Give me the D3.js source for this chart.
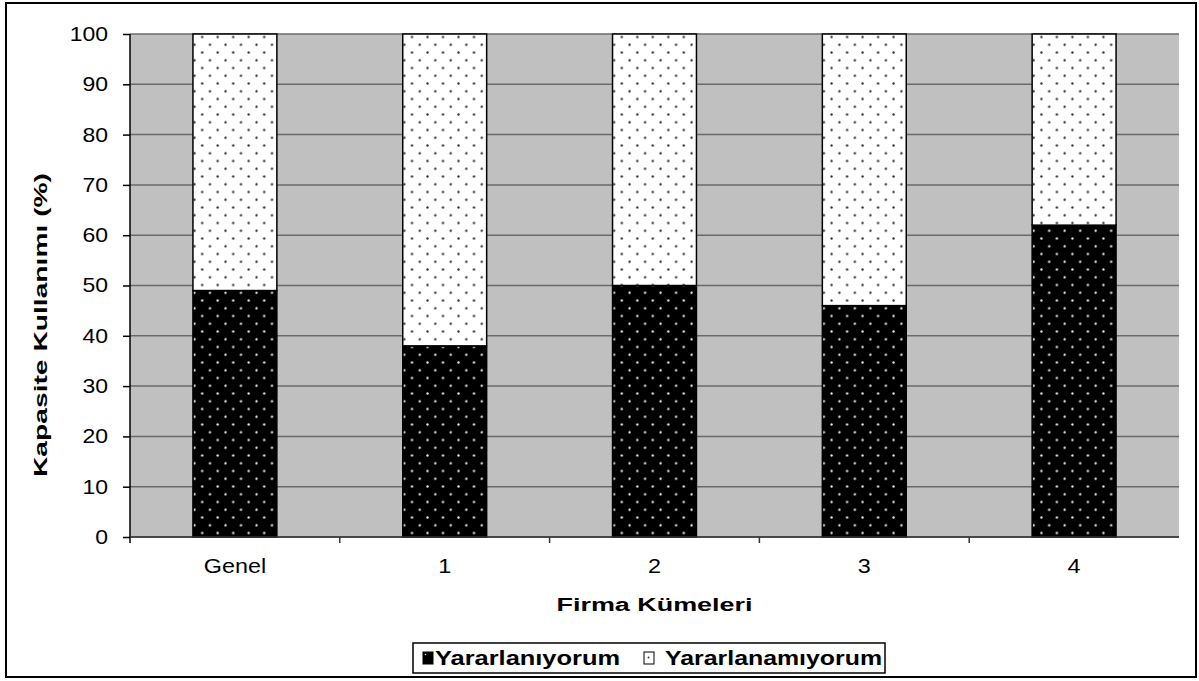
<!DOCTYPE html>
<html>
<head>
<meta charset="utf-8">
<script src="https://cdn.jsdelivr.net/npm/d3@7"></script>
<style>
  html, body { margin: 0; padding: 0; background: #fff; }
  svg { display: block; font-family: "Liberation Sans", Arial, sans-serif; }
</style>
</head>
<body>
<svg id="chart" width="1199" height="681"></svg>
<script>
// Kapasite kullanımı — firma kümelerine göre yığılmış sütunlar
const categories = ["Genel", "1", "2", "3", "4"];
const seriesNames = ["Yararlanıyorum", "Yararlanamıyorum"];
const usedValues = [49, 38, 50, 46, 62];
const unusedValues = [51, 62, 50, 54, 38];
const yTicks = [0, 10, 20, 30, 40, 50, 60, 70, 80, 90, 100];

const W = 1199, H = 681;
const plot = { left: 130, right: 1179, top: 34, bottom: 537 };

const svg = d3.select("#chart");
svg.append("rect").attr("x", 0).attr("y", 0).attr("width", W).attr("height", H).attr("fill", "#fff");

// outer frame
svg.append("rect")
  .attr("x", 6).attr("y", 3).attr("width", 1190).attr("height", 674)
  .attr("fill", "none").attr("stroke", "#000").attr("stroke-width", 2);

const x = d3.scaleBand().domain(categories).range([plot.left, plot.right]).padding(0);
const y = d3.scaleLinear().domain([0, 100]).range([plot.bottom, plot.top]);
const barW = x.bandwidth() * 0.4;

const rows = categories.map((c, i) => ({ cat: c, [seriesNames[0]]: usedValues[i], [seriesNames[1]]: unusedValues[i] }));
const stacked = d3.stack().keys(seriesNames)(rows);

// dotted fills, one pattern per bar so the dot grid starts at the bar edge
const defs = svg.append("defs");
const fills = [
  { bg: "#000", dot: "#f0f0f0" },
  { bg: "#fff", dot: "#2a2a2a" }
];
const step = 15.5;
const dotR = 1.15;
function patternId(s, i) { return `pat-${s}-${i}`; }
fills.forEach((f, s) => {
  categories.forEach((c, i) => {
    const bx = x(c) + (x.bandwidth() - barW) / 2;
    const p = defs.append("pattern")
      .attr("id", patternId(s, i))
      .attr("patternUnits", "userSpaceOnUse")
      .attr("width", step).attr("height", step)
      .attr("x", bx + 1).attr("y", plot.top + 2.5);
    p.append("rect").attr("width", step).attr("height", step).attr("fill", f.bg);
    [[step / 2, 0], [0, step / 2], [step, step / 2], [step / 2, step]].forEach(([cx, cy]) => {
      p.append("circle").attr("cx", cx + 0.5).attr("cy", cy + 0.5).attr("r", dotR).attr("fill", f.dot);
    });
  });
});

// plot background
svg.append("rect")
  .attr("x", plot.left).attr("y", plot.top)
  .attr("width", plot.right - plot.left).attr("height", plot.bottom - plot.top)
  .attr("fill", "#c0c0c0");

// horizontal gridlines
svg.append("g").selectAll("line").data(yTicks).join("line")
  .attr("x1", plot.left).attr("x2", plot.right)
  .attr("y1", d => y(d)).attr("y2", d => y(d))
  .attr("stroke", "#6a6a6a").attr("stroke-width", 1.5);

// bars
stacked.forEach((layer, s) => {
  svg.append("g").selectAll("rect").data(layer).join("rect")
    .attr("x", (d, i) => x(categories[i]) + (x.bandwidth() - barW) / 2)
    .attr("width", barW)
    .attr("y", d => y(d[1]))
    .attr("height", d => y(d[0]) - y(d[1]))
    .attr("fill", (d, i) => `url(#${patternId(s, i)})`)
    .attr("stroke", "#000").attr("stroke-width", 1.5);
});

// y axis
const yAxis = svg.append("g")
  .attr("transform", `translate(${plot.left},0)`)
  .call(d3.axisLeft(y).tickValues(yTicks).tickSize(7).tickPadding(12).tickSizeOuter(0));
yAxis.select(".domain").attr("stroke", "#000").attr("stroke-width", 1.5)
  .attr("d", `M0,${plot.top}V${plot.bottom + 6}`);
yAxis.selectAll(".tick line").attr("stroke", "#000").attr("stroke-width", 1.5);
yAxis.selectAll(".tick text")
  .attr("font-size", 20).attr("fill", "#000")
  .attr("font-family", "'Liberation Sans', Arial, sans-serif")
  .attr("transform", "scale(1.15,1)");

// x axis: ticks sit on the category boundaries
const boundaries = categories.map(c => x(c)).concat([plot.right]);
const xg = svg.append("g");
xg.append("line")
  .attr("x1", plot.left).attr("x2", plot.right)
  .attr("y1", plot.bottom).attr("y2", plot.bottom)
  .attr("stroke", "#333").attr("stroke-width", 1.5);
xg.selectAll("line.tk").data(boundaries.slice(1, -1)).join("line")
  .attr("class", "tk")
  .attr("x1", d => d).attr("x2", d => d)
  .attr("y1", plot.bottom).attr("y2", plot.bottom + 6)
  .attr("stroke", "#333").attr("stroke-width", 1.5);
xg.selectAll("text").data(categories).join("text")
  .attr("transform", d => `translate(${x(d) + x.bandwidth() / 2},573) scale(1.17,1)`)
  .attr("text-anchor", "middle")
  .attr("font-size", 20).attr("fill", "#000")
  .text(d => d);

// axis titles
svg.append("text")
  .attr("x", (plot.left + plot.right) / 2).attr("y", 611)
  .attr("text-anchor", "middle")
  .attr("font-size", 18).attr("font-weight", "bold")
  .attr("textLength", 196).attr("lengthAdjust", "spacingAndGlyphs")
  .text("Firma Kümeleri");

svg.append("text")
  .attr("transform", "translate(47,325) rotate(-90)")
  .attr("text-anchor", "middle")
  .attr("font-size", 17.5).attr("font-weight", "bold")
  .attr("textLength", 304).attr("lengthAdjust", "spacingAndGlyphs")
  .text("Kapasite Kullanımı (%)");

// legend
const lg = svg.append("g");
lg.append("rect")
  .attr("x", 413).attr("y", 643).attr("width", 472).attr("height", 30)
  .attr("fill", "#fff").attr("stroke", "#000").attr("stroke-width", 1.5);
const legendItems = [
  { name: seriesNames[0], mx: 423, tx: 435, tl: 185, fill: "#000" },
  { name: seriesNames[1], mx: 644, tx: 665, tl: 217, fill: "#fff" }
];
legendItems.forEach(it => {
  lg.append("rect")
    .attr("x", it.mx).attr("y", 652).attr("width", 10).attr("height", 12)
    .attr("fill", it.fill).attr("stroke", "#000").attr("stroke-width", 1);
  lg.append("text")
    .attr("x", it.tx).attr("y", 665)
    .attr("font-size", 20).attr("font-weight", "bold")
    .attr("textLength", it.tl).attr("lengthAdjust", "spacingAndGlyphs")
    .text(it.name);
});
lg.append("circle").attr("cx", 425.5).attr("cy", 654.5).attr("r", 0.8).attr("fill", "#ccc");
lg.append("circle").attr("cx", 648.5).attr("cy", 657.5).attr("r", 0.9).attr("fill", "#333");
</script>
</body>
</html>
